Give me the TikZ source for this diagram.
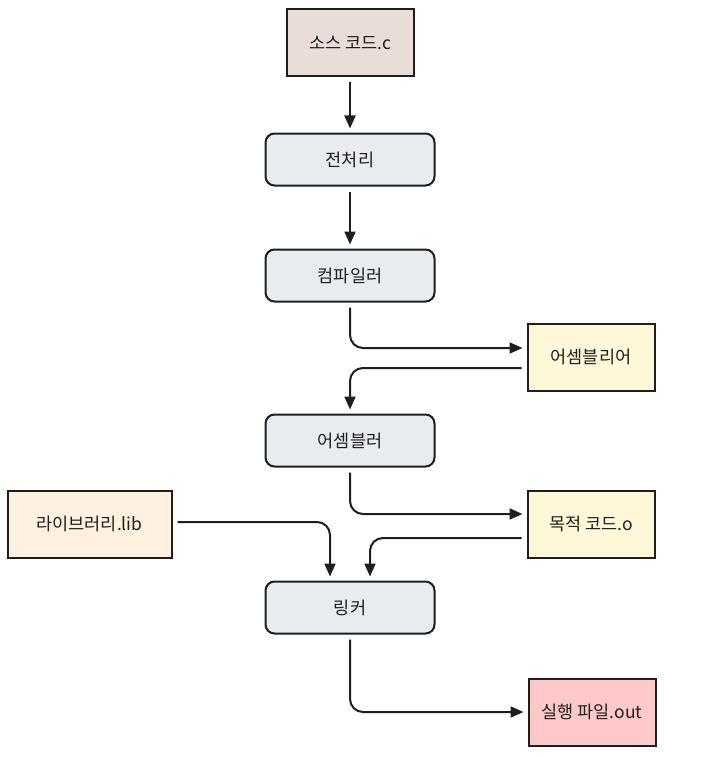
\documentclass[tikz,border=0pt]{standalone}
\usepackage{fontspec}
\setmainfont{Noto Sans CJK KR}
\usetikzlibrary{arrows.meta,positioning}

\definecolor{ink}{HTML}{1E1E1E}
\definecolor{stepfill}{HTML}{E9ECEF}
\definecolor{srcfill}{HTML}{EADDD7}
\definecolor{midfill}{HTML}{FFF8D8}
\definecolor{libfill}{HTML}{FFF0DF}
\definecolor{outfill}{HTML}{FFC9C9}

\begin{document}
\begin{tikzpicture}[
    x=1pt, y=-1pt,
    font=\fontsize{17.5}{20}\selectfont,
    >={Triangle[length=13pt,width=11pt]},
    stage/.style={draw=ink, line width=2pt, fill=stepfill, rounded corners=9pt,
      minimum width=169pt, minimum height=52pt, text=ink},
    file/.style={draw=ink, line width=2pt, minimum width=127pt, minimum height=67pt, text=ink},
    arr/.style={->, draw=ink, line width=2pt, rounded corners=13pt, shorten <=5pt, shorten >=4pt}
  ]
    \useasboundingbox (0,0) rectangle (702,757);
    \node[file, fill=srcfill] (src) at (350,43) {소스 코드.c};
    \node[stage, below=55pt of src] (pre) {전처리};
    \node[stage, below=62pt of pre] (comp) {컴파일러};
    \node[file, fill=midfill, below right=20pt and 91pt of comp] (asml) {어셈블리어};
    \node[stage, below=111pt of comp] (asmb) {어셈블러};
    \node[file, fill=midfill, below right=22pt and 91pt of asmb] (obj) {목적 코드.o};
    \node[file, fill=libfill, minimum width=164pt, below left=22pt and 92pt of asmb] (lib) {라이브러리.lib};
    \node[stage, below=113pt of asmb] (link) {링커};
    \node[file, fill=outfill, below right=43pt and 92pt of link] (exe) {실행 파일.out};
    \draw[arr] (src) -- (pre);
    \draw[arr] (pre) -- (comp);
    \draw[arr] (comp.south) |- ([yshift=9pt]asml.west);
    \draw[arr] ([yshift=-11pt]asml.west) -| (asmb.north);
    \draw[arr] (asmb.south) |- ([yshift=10pt]obj.west);
    \draw[arr] ([yshift=-14pt]obj.west) -| ([xshift=20pt]link.north);
    \draw[arr] ([yshift=2pt]lib.east) -| ([xshift=-20pt]link.north);
    \draw[arr] (link.south) |- (exe.west);
  \end{tikzpicture}
\end{document}
